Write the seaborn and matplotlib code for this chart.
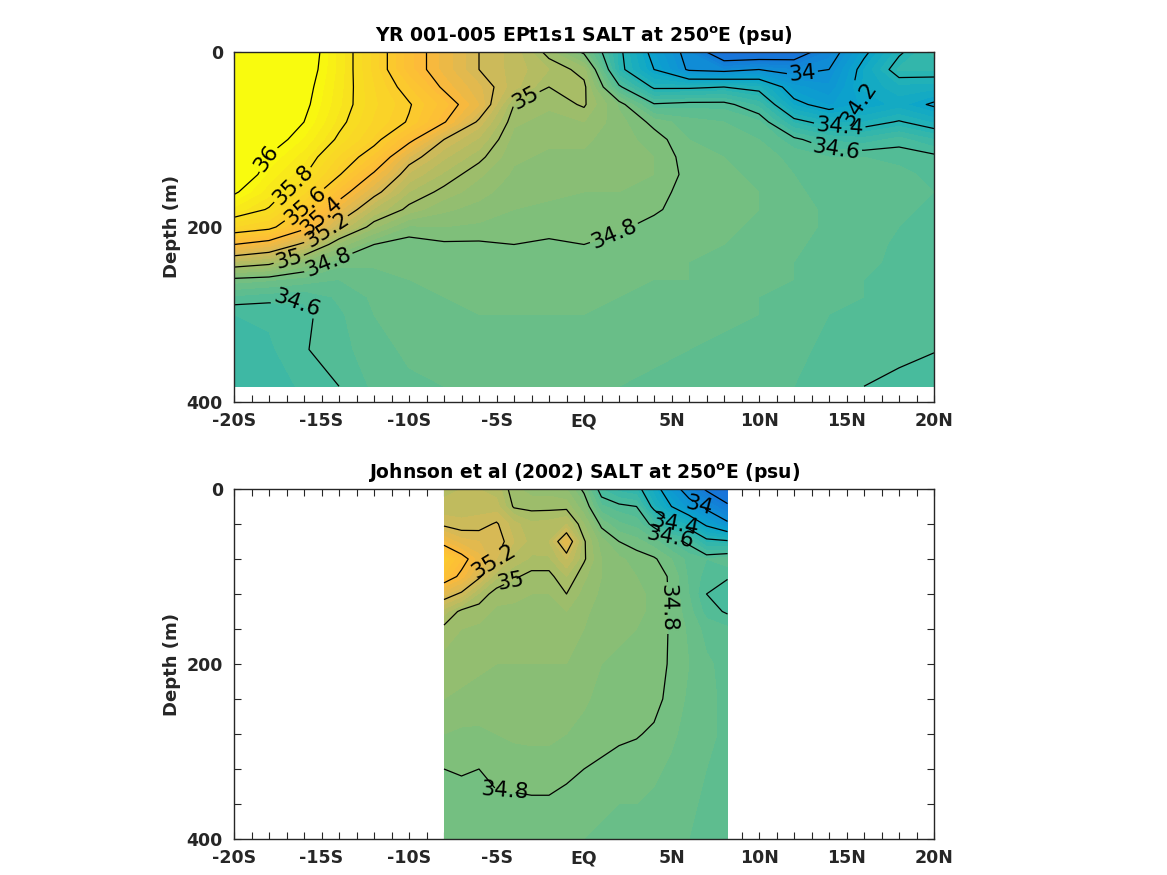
import numpy as np
import seaborn as sns
import matplotlib
matplotlib.use("Agg")
import matplotlib.pyplot as plt

# model section, one row per latitude
model_lat = [-20, -18, -16, -14, -12, -10, -8, -6, -4, -2, 0, 2, 4, 6, 8, 10, 12, 14, 16, 18, 20]
model_depth = [0, 20, 40, 60, 80, 100, 120, 140, 160, 180, 200, 220, 240, 260, 280, 300, 340, 382]
model_salt = [
    [36.50, 36.50, 36.50, 36.45, 36.40, 36.35, 36.25, 36.15, 36.02, 35.88, 35.70, 35.40, 35.09, 34.78, 34.64, 34.55, 34.52, 34.50],
    [36.40, 36.40, 36.35, 36.25, 36.15, 36.07, 35.99, 35.93, 35.87, 35.79, 35.64, 35.33, 35.04, 34.76, 34.62, 34.56, 34.54, 34.52],
    [36.10, 36.08, 36.05, 36.03, 36.00, 35.94, 35.87, 35.81, 35.71, 35.58, 35.44, 35.17, 34.89, 34.73, 34.61, 34.585, 34.595, 34.56],
    [35.88, 35.88, 35.87, 35.86, 35.83, 35.78, 35.69, 35.61, 35.47, 35.32, 35.15, 34.93, 34.77, 34.70, 34.66, 34.64, 34.63, 34.60],
    [35.68, 35.68, 35.70, 35.71, 35.69, 35.64, 35.53, 35.38, 35.24, 35.09, 34.96, 34.80, 34.76, 34.73, 34.71, 34.70, 34.68, 34.66],
    [35.47, 35.47, 35.55, 35.61, 35.59, 35.44, 35.25, 35.14, 35.05, 34.98, 34.84, 34.77, 34.76, 34.75, 34.74, 34.73, 34.71, 34.69],
    [35.33, 35.33, 35.38, 35.47, 35.41, 35.20, 35.11, 35.04, 34.98, 34.91, 34.85, 34.79, 34.77, 34.76, 34.75, 34.74, 34.72, 34.70],
    [35.20, 35.20, 35.26, 35.30, 35.18, 35.09, 35.02, 34.96, 34.92, 34.88, 34.84, 34.79, 34.78, 34.77, 34.76, 34.75, 34.73, 34.71],
    [35.13, 35.13, 35.12, 35.00, 34.96, 34.93, 34.91, 34.89, 34.87, 34.85, 34.83, 34.80, 34.78, 34.77, 34.76, 34.75, 34.73, 34.71],
    [34.97, 35.05, 35.00, 34.96, 34.93, 34.91, 34.89, 34.88, 34.86, 34.84, 34.82, 34.79, 34.78, 34.77, 34.76, 34.75, 34.73, 34.71],
    [34.78, 34.97, 35.02, 35.01, 34.95, 34.91, 34.89, 34.87, 34.85, 34.83, 34.81, 34.80, 34.78, 34.77, 34.76, 34.75, 34.73, 34.71],
    [34.43, 34.44, 34.62, 34.84, 34.87, 34.87, 34.87, 34.86, 34.85, 34.83, 34.81, 34.78, 34.77, 34.76, 34.75, 34.74, 34.72, 34.70],
    [34.15, 34.20, 34.38, 34.61, 34.78, 34.83, 34.85, 34.85, 34.83, 34.81, 34.78, 34.77, 34.76, 34.75, 34.74, 34.73, 34.71, 34.69],
    [33.95, 33.98, 34.38, 34.63, 34.72, 34.75, 34.77, 34.78, 34.77, 34.77, 34.76, 34.76, 34.75, 34.75, 34.74, 34.72, 34.70, 34.68],
    [33.65, 33.95, 34.40, 34.63, 34.70, 34.73, 34.75, 34.76, 34.76, 34.76, 34.76, 34.75, 34.74, 34.73, 34.72, 34.71, 34.69, 34.67],
    [33.65, 34.00, 34.36, 34.53, 34.66, 34.70, 34.73, 34.74, 34.75, 34.75, 34.74, 34.73, 34.72, 34.71, 34.70, 34.70, 34.68, 34.66],
    [33.68, 33.95, 34.12, 34.24, 34.44, 34.62, 34.68, 34.70, 34.71, 34.72, 34.72, 34.71, 34.70, 34.70, 34.69, 34.68, 34.66, 34.65],
    [33.92, 34.00, 34.06, 34.14, 34.35, 34.54, 34.65, 34.67, 34.68, 34.69, 34.69, 34.68, 34.68, 34.67, 34.66, 34.65, 34.64, 34.63],
    [34.17, 34.25, 34.26, 34.21, 34.35, 34.52, 34.65, 34.67, 34.68, 34.68, 34.68, 34.67, 34.66, 34.65, 34.65, 34.64, 34.63, 34.60],
    [34.38, 34.46, 34.33, 34.27, 34.41, 34.57, 34.64, 34.66, 34.66, 34.66, 34.65, 34.64, 34.64, 34.64, 34.63, 34.63, 34.62, 34.58],
    [34.52, 34.46, 34.32, 34.18, 34.34, 34.50, 34.62, 34.64, 34.65, 34.64, 34.63, 34.63, 34.63, 34.63, 34.62, 34.62, 34.605, 34.55],
]

# Johnson et al section, narrower in latitude
obs_lat = [-8, -7, -6, -5, -4, -3, -2, -1, 0, 1, 2, 3, 4, 5, 6, 7, 8.2]
obs_depth = [0, 20, 40, 60, 80, 100, 120, 140, 160, 200, 240, 280, 320, 360, 400]
obs_salt = [
    [35.08, 35.12, 35.18, 35.35, 35.58, 35.48, 35.26, 35.07, 34.98, 34.93, 34.90, 34.85, 34.80, 34.78, 34.76],
    [35.10, 35.13, 35.16, 35.27, 35.45, 35.37, 35.18, 34.98, 34.95, 34.92, 34.89, 34.84, 34.805, 34.78, 34.76],
    [35.10, 35.13, 35.17, 35.25, 35.32, 35.22, 35.04, 34.97, 34.94, 34.91, 34.88, 34.84, 34.80, 34.78, 34.77],
    [35.08, 35.12, 35.21, 35.24, 35.20, 35.06, 34.97, 34.94, 34.93, 34.90, 34.88, 34.85, 34.815, 34.79, 34.77],
    [34.96, 34.99, 35.12, 35.15, 35.08, 35.01, 34.96, 34.94, 34.93, 34.90, 34.88, 34.86, 34.82, 34.79, 34.77],
    [34.93, 34.98, 35.06, 35.08, 35.04, 34.98, 34.95, 34.93, 34.92, 34.90, 34.88, 34.86, 34.83, 34.79, 34.77],
    [34.93, 34.98, 35.07, 35.10, 35.04, 34.98, 34.95, 34.93, 34.92, 34.90, 34.88, 34.86, 34.83, 34.79, 34.77],
    [34.90, 34.98, 35.10, 35.30, 35.15, 35.05, 35.00, 34.95, 34.93, 34.90, 34.88, 34.85, 34.815, 34.78, 34.76],
    [34.78, 34.86, 34.95, 35.01, 35.01, 34.96, 34.93, 34.91, 34.90, 34.88, 34.86, 34.83, 34.80, 34.77, 34.75],
    [34.55, 34.66, 34.78, 34.87, 34.90, 34.90, 34.89, 34.88, 34.87, 34.85, 34.83, 34.82, 34.79, 34.76, 34.74],
    [34.48, 34.62, 34.71, 34.80, 34.86, 34.87, 34.87, 34.87, 34.86, 34.84, 34.83, 34.81, 34.78, 34.75, 34.73],
    [34.45, 34.60, 34.68, 34.77, 34.83, 34.85, 34.86, 34.86, 34.85, 34.84, 34.82, 34.805, 34.77, 34.75, 34.73],
    [34.27, 34.36, 34.57, 34.72, 34.81, 34.83, 34.84, 34.84, 34.84, 34.83, 34.82, 34.79, 34.76, 34.74, 34.72],
    [34.08, 34.20, 34.41, 34.64, 34.75, 34.79, 34.79, 34.79, 34.79, 34.79, 34.78, 34.76, 34.74, 34.73, 34.71],
    [33.92, 34.07, 34.33, 34.58, 34.68, 34.69, 34.70, 34.72, 34.74, 34.75, 34.74, 34.73, 34.72, 34.71, 34.70],
    [33.78, 33.96, 34.17, 34.44, 34.65, 34.63, 34.60, 34.63, 34.68, 34.71, 34.71, 34.71, 34.70, 34.69, 34.69],
    [33.65, 33.83, 34.03, 34.42, 34.68, 34.61, 34.55, 34.59, 34.66, 34.68, 34.69, 34.69, 34.69, 34.68, 34.68],
]

line_levels = [33.8, 34, 34.2, 34.4, 34.6, 34.8, 35, 35.2, 35.4, 35.6, 35.8, 36]
x_ticks = [-20, -15, -10, -5, 0, 5, 10, 15, 20]
x_labels = ["-20S", "-15S", "-10S", "-5S", "EQ", "5N", "10N", "15N", "20N"]
y_ticks = [0, 200, 400]

titles = ["YR 001-005 EPt1s1 SALT at 250$\\mathbf{^{o}}$E (psu)",
          "Johnson et al (2002) SALT at 250$\\mathbf{^{o}}$E (psu)"]

# where the contour labels sit: level -> (lat, depth)
model_labels = {36: [(-18.3, 120)], 35.8: [(-16.5, 155)], 35.6: [(-15.8, 178)], 35.4: [(-14.9, 189)],
                35.2: [(-14.6, 207)], 35: [(-16.9, 235), (-3.5, 47)], 34.8: [(-14.6, 241), (1.7, 206)],
                34.6: [(-16.4, 281), (14.4, 113)], 34.4: [(14.6, 89)], 34.2: [(16, 58)], 34: [(12.5, 27)]}
obs_labels = {35.2: [(-5.1, 87)], 35: [(-4.2, 107)], 34.8: [(4.8, 136), (-4.5, 338)],
              34.6: [(4.9, 62)], 34.4: [(5.2, 49)], 34: [(6.5, 32)]}

# colours, one every 0.2 psu from 33.4 to 36.6
vmin, vmax = 33.4, 36.6
salt_colors = ["#2566e0", "#1f70dd", "#1578d8", "#0f90d6", "#0ba5cb", "#25b3b4", "#4fbc98", "#7bbf7c",
               "#a3bd68", "#d3b958", "#fdb93a", "#fbcc2c", "#f8df20", "#f9fb0e", "#f9fb0e", "#f9fb0e", "#f9fb0e"]
cmap = sns.blend_palette(salt_colors, n_colors=256, as_cmap=True)

sns.set_theme(style="ticks", rc={"axes.edgecolor": "#262626", "axes.linewidth": 1.0,
                                 "xtick.direction": "in", "ytick.direction": "in",
                                 "xtick.top": True, "ytick.right": True})
plt.rcParams["font.family"] = ["DejaVu Sans"]
plt.rcParams["mathtext.default"] = "bf"

fig = plt.figure(figsize=(11.67, 8.75), dpi=100)
ax_top = fig.add_axes([234 / 1167, 1 - 402 / 875, 700 / 1167, 350 / 875])
ax_bot = fig.add_axes([234 / 1167, 1 - 839 / 875, 700 / 1167, 350 / 875])
fill_levels = np.arange(33.6, 36.6, 0.05)


def draw_section(ax, lat, depth, salt, labels, title):
    salt = np.array(salt).T
    ax.contourf(lat, depth, salt, levels=fill_levels, cmap=cmap, vmin=vmin, vmax=vmax, extend="both")
    # one contour set per level so each label lands on its own line
    for level in line_levels:
        if level < salt.min() or level > salt.max():
            continue
        lines = ax.contour(lat, depth, salt, levels=[level], colors="black", linewidths=0.9)
        if level in labels:
            texts = ax.clabel(lines, manual=labels[level], fmt=lambda v: f"{round(v, 1):g}",
                              fontsize=15.5, inline=True, inline_spacing=2, colors="black")
            # y axis is flipped, so the labels come out mirrored
            for t in texts:
                t.set_rotation(-t.get_rotation())
    ax.set_xlim(-20, 20)
    ax.set_ylim(400, 0)
    ax.set_xticks(x_ticks)
    ax.set_xticklabels(x_labels, fontweight="bold", fontsize=12.5, color="#262626", va="baseline")
    ax.set_xticks(np.arange(-20, 21, 1), minor=True)
    ax.set_yticks(y_ticks)
    ax.set_yticklabels(y_ticks, fontweight="bold", fontsize=12.5, color="#262626")
    ax.set_yticks(np.arange(0, 401, 40), minor=True)
    ax.tick_params(which="both", length=5, width=0.8, color="#262626", top=True, right=True)
    ax.tick_params(axis="x", which="major", pad=17.3)
    ax.tick_params(axis="y", which="major", pad=8)
    ax.set_ylabel("Depth (m)", fontweight="bold", fontsize=13, color="#262626", labelpad=4)
    ax.set_title(title, fontweight="bold", fontsize=13.5, color="black", pad=7)


draw_section(ax_top, model_lat, model_depth, model_salt, model_labels, titles[0])
draw_section(ax_bot, obs_lat, obs_depth, obs_salt, obs_labels, titles[1])

fig.savefig("out.png", dpi=100)
